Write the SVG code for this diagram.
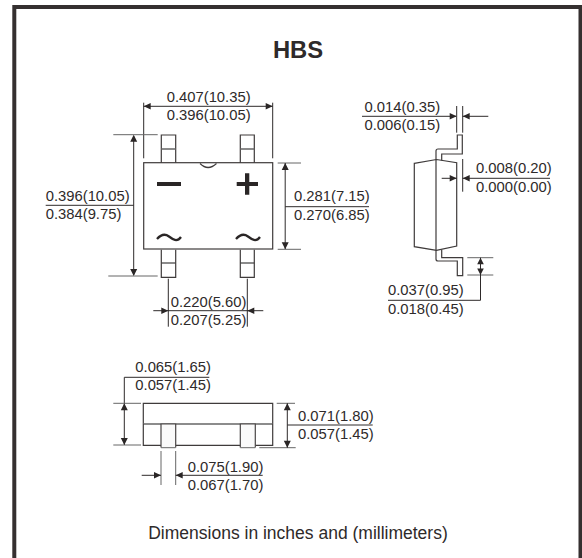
<svg xmlns="http://www.w3.org/2000/svg" width="582" height="558" viewBox="0 0 582 558">
<style>
text{font-family:"Liberation Sans",Arial,sans-serif;font-size:14.800px;fill:#2e2a2a}
.o{fill:none;stroke:#3f3b3b;stroke-width:1.200}
.m{fill:none;stroke:#666;stroke-width:1.300}
.d{fill:none;stroke:#2e2a2a;stroke-width:1}
.g{fill:none;stroke:#666;stroke-width:1}
.a{fill:#2a2626}
.s{fill:none;stroke:#2a2626;stroke-width:2.300}
.p{fill:#fafafa;stroke:#4a4646;stroke-width:1.200}
</style>
<rect width="582" height="558" fill="#fff"/>
<path d="M14.300 558V7H580.500V558" fill="none" stroke="#353030" stroke-width="4"/>
<text x="298" y="57.500" text-anchor="middle" style="font-size:23.800px;font-weight:700">HBS</text>
<text x="298" y="539" text-anchor="middle" style="font-size:17.500px">Dimensions in inches and (millimeters)</text>
<g id="top-view">
<rect class="o" x="143.700" y="162.700" width="129" height="86.300"/>
<path class="o" d="M161.300 162.700V135H175.700V162.700M240.300 162.700V135H254.300V162.700"/>
<path class="m" d="M161.300 149H175.700M240.300 149H254.300M161.300 263H175.700M240.300 263H254.300"/>
<path class="o" d="M161.300 249.700V277.300H175.700V249.700M240.300 249.700V277.300H254.300V249.700"/>
<path class="o" d="M200 163.500Q208 171.500 216.500 163.500"/>
<rect class="a" x="157" y="182" width="24" height="4"/>
<path class="a" d="M236.700 182H245V173.300H249.300V182H258V186H249.300V194.700H245V186H236.700Z"/>
<path class="s" d="M157 239C161 234.500 165 233.500 169 236.500S177 242.500 181 237"/>
<path class="s" d="M236 239C240 234.500 244 233.500 248 236.500S256 242.500 260 237"/>
</g>
<g id="side-view">
<path class="o" d="M414.300 163.300L436.500 159.500L456.700 162.700V246L436.500 250.300L414.300 246.700Z"/>
<path class="o" d="M436 160V151Q436 149 438 149H457.300V135H462.300V154H441.700V160.500"/>
<path class="o" d="M436 160V259Q436 261 438 261H457.300V275.700H462.700V257.700H441.700V250"/>
</g>
<g id="front-view">
<path class="o" d="M143.300 424V403.300H272.700V424"/>
<path class="m" d="M143.300 424H272.700"/>
<path class="o" d="M143.300 424V445.300H161M175.700 445.300H240.300M255.300 445.300H272.700V424"/>
<path class="p" d="M161 447.500V424H175.700V447.500"/>
<path class="p" d="M240.300 447.500V424H255.300V447.500"/>
<path class="g" d="M161 447.700H175.700M240.300 447.700H255.300M259.300 447.700H295.700"/>
</g>
<g id="connectors">
<path class="d" d="M143.700 102.700V158.300M272.700 102.700V158.300M143.700 106.300H272.700"/>
<path class="g" d="M113.300 134.700H157.700M108.300 276H157.700M277.700 163H301M277.700 249.300H301"/>
<path class="d" d="M133.700 136V275M45.700 205.300H133.700M285.200 163V249M285.200 206.700H369M168.300 278.700V326.700M247.300 278.700V326.700M153.300 310.700H263.300"/>
<path class="a" d="M143.700 106.300l7-3.300v6.600zM272.700 106.300l-7-3.300v6.600zM133.700 134.700l-3.500 7h7zM133.700 276l-3.500-7h7zM285.200 163l-3.500 7h7zM285.200 249.300l-3.500-7h7zM168.300 310.700l-7-3.300v6.600zM247.300 310.700l7-3.300v6.600z"/>
<path class="d" d="M362 116.300H456M456.700 106V132.700M462.700 106V132.700M462.700 116.300H488.300"/>
<path class="a" d="M456.700 116.300l-7-3.300v6.600zM462.700 116.300l7-3.300v6.600z"/>
<path class="d" d="M441.700 178.300H456.700M462.700 159V191.700M462.700 178.300H550"/>
<path class="a" d="M456.700 178.300l-7-3.300v6.600zM462.700 178.300l7-3.300v6.600z"/>
<path class="g" d="M467.300 257.700H493.300M467.300 275H493.300"/>
<path class="d" d="M388 300.300H480.500V257.700"/>
<path class="a" d="M480.500 257.700l-3.300 6.500h6.600zM480.500 275l-3.300-6.500h6.600z"/>
<path class="d" d="M124.300 377.300H209.300M124.300 377.300V445"/>
<path class="g" d="M113.300 403.300H141M113.300 445H141M276.700 403.300H295"/>
<path class="d" d="M287.300 403.300V447.700M287.300 425H372.700"/>
<path class="a" d="M124.300 403.300l-3.500 7h7zM124.300 445l-3.500-7h7zM287.300 403.300l-3.500 7h7zM287.300 447.700l-3.500-7h7z"/>
<path class="g" d="M161 451V485M175.700 451V485"/>
<path class="d" d="M141.700 475.300H161M175.700 475.300H262.700"/>
<path class="a" d="M161 475.300l-7-3.300v6.600zM175.700 475.300l7-3.300v6.600z"/>
</g>
<g id="labels">
<text x="166.700" y="101.700">0.407(10.35)</text>
<text x="166.700" y="120">0.396(10.05)</text>
<text x="45.700" y="201">0.396(10.05)</text>
<text x="45.700" y="219.300">0.384(9.75)</text>
<text x="170.700" y="306.700">0.220(5.60)</text>
<text x="170.700" y="325">0.207(5.25)</text>
<text x="294" y="200.800">0.281(7.15)</text>
<text x="294" y="220">0.270(6.85)</text>
<text x="364.500" y="112.300">0.014(0.35)</text>
<text x="364.500" y="130">0.006(0.15)</text>
<text x="476" y="173.300">0.008(0.20)</text>
<text x="476" y="191.700">0.000(0.00)</text>
<text x="388" y="295">0.037(0.95)</text>
<text x="388" y="314">0.018(0.45)</text>
<text x="135.300" y="371.700">0.065(1.65)</text>
<text x="135.300" y="390">0.057(1.45)</text>
<text x="298" y="421">0.071(1.80)</text>
<text x="298" y="439.300">0.057(1.45)</text>
<text x="187.700" y="471.700">0.075(1.90)</text>
<text x="187.700" y="490">0.067(1.70)</text>
</g>
</svg>
